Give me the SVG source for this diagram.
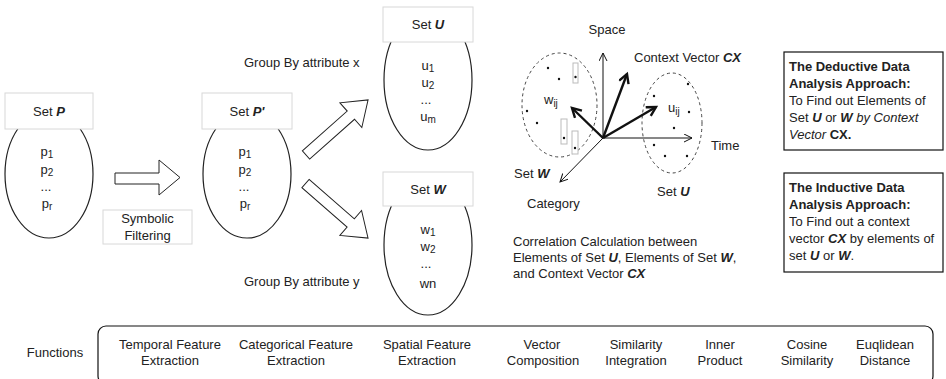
<svg xmlns="http://www.w3.org/2000/svg" width="946" height="379" viewBox="0 0 946 379">
<defs>
<style>
text{font-family:"Liberation Sans",Arial,sans-serif;font-size:13px;fill:#222}
.m{text-anchor:middle}
.bi{font-weight:bold;font-style:italic}
.b{font-weight:bold}
.i{font-style:italic}
.lbl{fill:#fff;stroke:#d8d8d8;stroke-width:1}
.set{fill:#fff;stroke:#222;stroke-width:1.2}
.hol{fill:#fff;stroke:#222;stroke-width:1}
.ax{stroke:#111;stroke-width:1;fill:none}
.thk{stroke:#111;stroke-width:2.4;fill:none}
.dash{fill:none;stroke:#444;stroke-width:1;stroke-dasharray:3,3}
.dot{fill:#111}
.sm{fill:#fff;stroke:#bbb;stroke-width:1}
.sub{font-size:10px}
</style>
<marker id="ah" markerWidth="10" markerHeight="10" refX="8" refY="4" orient="auto" markerUnits="userSpaceOnUse">
<path d="M0,0 L8,4 L0,8" fill="none" stroke="#111" stroke-width="1"/>
</marker>
<marker id="ahb" markerWidth="14" markerHeight="14" refX="10" refY="6" orient="auto" markerUnits="userSpaceOnUse">
<path d="M1,1 L10,6 L1,11" fill="none" stroke="#111" stroke-width="2.4"/>
</marker>
</defs>

<g id="setP">
<ellipse class="set" cx="49" cy="174" rx="44" ry="64"/>
<rect class="lbl" x="5" y="93" width="88" height="36"/>
<text class="m" x="49" y="116">Set <tspan class="bi">P</tspan></text>
<text class="m" x="47" y="156">p<tspan class="sub" dy="2">1</tspan></text>
<text class="m" x="47" y="174">p<tspan class="sub" dy="2">2</tspan></text>
<text class="m" x="46" y="191">...</text>
<text class="m" x="47" y="208">p<tspan class="sub" dy="2">r</tspan></text>
</g>

<g id="filter">
<polygon class="hol" points="115,173 159,173 159,160 180,177.5 159,195 159,184 115,184"/>
<rect class="lbl" x="103" y="210" width="89" height="34"/>
<text class="m" x="147.5" y="223">Symbolic</text>
<text class="m" x="147.5" y="240">Filtering</text>
</g>

<g id="setP2">
<ellipse class="set" cx="247" cy="174" rx="44" ry="64"/>
<rect class="lbl" x="202" y="93" width="90" height="36"/>
<text class="m" x="247" y="116">Set <tspan class="bi">P'</tspan></text>
<text class="m" x="245" y="156">p<tspan class="sub" dy="2">1</tspan></text>
<text class="m" x="245" y="174">p<tspan class="sub" dy="2">2</tspan></text>
<text class="m" x="244" y="191">...</text>
<text class="m" x="245" y="208">p<tspan class="sub" dy="2">r</tspan></text>
</g>

<g id="groupArrows">
<polygon class="hol" transform="translate(306,155) rotate(-41.6)" points="0,-5.5 60,-5.5 60,-16.5 83,0 60,16.5 60,5.5 0,5.5"/>
<polygon class="hol" transform="translate(305.5,183.5) rotate(41.1)" points="0,-5.5 60,-5.5 60,-16.5 83,0 60,16.5 60,5.5 0,5.5"/>
<text x="244" y="67">Group By attribute x</text>
<text x="244" y="286">Group By attribute y</text>
</g>

<g id="setU">
<ellipse class="set" cx="428" cy="80" rx="44" ry="70"/>
<rect class="lbl" x="383" y="7" width="90" height="35"/>
<text class="m" x="428" y="29">Set <tspan class="bi">U</tspan></text>
<text class="m" x="428" y="70">u<tspan class="sub" dy="2">1</tspan></text>
<text class="m" x="428" y="87">u<tspan class="sub" dy="2">2</tspan></text>
<text class="m" x="426" y="104">...</text>
<text class="m" x="428" y="121">u<tspan class="sub" dy="2">m</tspan></text>
</g>

<g id="setW">
<ellipse class="set" cx="428" cy="245" rx="44" ry="70"/>
<rect class="lbl" x="383" y="172" width="90" height="34"/>
<text class="m" x="428" y="194">Set <tspan class="bi">W</tspan></text>
<text class="m" x="428" y="234">w<tspan class="sub" dy="2">1</tspan></text>
<text class="m" x="428" y="251">w<tspan class="sub" dy="2">2</tspan></text>
<text class="m" x="426" y="268">...</text>
<text class="m" x="428" y="288">wn</text>
</g>

<g id="vectorSpace">
<ellipse class="dash" cx="559.5" cy="105" rx="37.5" ry="52"/>
<ellipse class="dash" cx="672" cy="123" rx="30" ry="50"/>
<rect class="sm" x="573" y="63" width="5" height="20"/>
<rect class="sm" x="561" y="119" width="6" height="25"/>
<rect class="sm" x="572" y="131" width="6" height="23"/>
<circle class="dot" cx="548" cy="68" r="1.2"/>
<circle class="dot" cx="559" cy="79" r="1.2"/>
<circle class="dot" cx="575.5" cy="77" r="1.2"/>
<circle class="dot" cx="527" cy="111" r="1.2"/>
<circle class="dot" cx="537" cy="123" r="1.2"/>
<circle class="dot" cx="564" cy="138" r="1.2"/>
<circle class="dot" cx="575" cy="148" r="1.2"/>
<circle class="dot" cx="654" cy="96" r="1.2"/>
<circle class="dot" cx="688" cy="84" r="1.2"/>
<circle class="dot" cx="689" cy="112" r="1.2"/>
<circle class="dot" cx="674" cy="128" r="1.2"/>
<circle class="dot" cx="654" cy="145" r="1.2"/>
<circle class="dot" cx="665" cy="156" r="1.2"/>
<circle class="dot" cx="687" cy="156" r="1.2"/>
<line class="ax" x1="603" y1="138" x2="603" y2="53" marker-end="url(#ah)"/>
<line class="ax" x1="603" y1="138" x2="692" y2="138" marker-end="url(#ah)"/>
<line class="ax" x1="603" y1="138" x2="560" y2="182" marker-end="url(#ah)"/>
<line class="thk" x1="603" y1="138" x2="627" y2="74" marker-end="url(#ahb)"/>
<line class="thk" x1="603" y1="138" x2="656" y2="107" marker-end="url(#ahb)"/>
<line class="thk" x1="603" y1="138" x2="572" y2="108" marker-end="url(#ahb)"/>
<text class="m" x="607" y="34">Space</text>
<text x="634" y="62">Context Vector <tspan class="bi">CX</tspan></text>
<text x="711" y="150">Time</text>
<text x="544" y="104">w<tspan class="sub" dy="3">ij</tspan></text>
<text x="668" y="112">u<tspan class="sub" dy="3">ij</tspan></text>
<text x="514" y="178">Set <tspan class="bi">W</tspan></text>
<text x="527" y="208">Category</text>
<text x="657" y="196">Set <tspan class="bi">U</tspan></text>
<text x="513" y="246">Correlation Calculation between</text>
<text x="513" y="262">Elements of Set <tspan class="bi">U</tspan>, Elements of Set <tspan class="bi">W</tspan>,</text>
<text x="513" y="278">and Context Vector <tspan class="bi">CX</tspan></text>
</g>

<g id="deductive">
<rect x="784" y="52" width="159" height="98" fill="none" stroke="#111" stroke-width="1.2"/>
<text x="789" y="71" class="b">The Deductive Data</text>
<text x="789" y="88" class="b">Analysis Approach:</text>
<text x="789" y="105">To Find out Elements of</text>
<text x="789" y="122">Set <tspan class="bi">U</tspan> or <tspan class="bi">W</tspan><tspan class="i"> by Context</tspan></text>
<text x="789" y="139"><tspan class="i">Vector </tspan><tspan class="b">CX.</tspan></text>
</g>

<g id="inductive">
<rect x="784" y="173" width="159" height="99" fill="none" stroke="#111" stroke-width="1.2"/>
<text x="789" y="192" class="b">The Inductive Data</text>
<text x="789" y="209" class="b">Analysis Approach:</text>
<text x="789" y="226">To Find out a context</text>
<text x="789" y="243">vector <tspan class="bi">CX</tspan> by elements of</text>
<text x="789" y="260">set <tspan class="bi">U</tspan> or <tspan class="bi">W</tspan>.</text>
</g>

<g id="functions">
<text class="m" x="55" y="357">Functions</text>
<rect x="98" y="326" width="835" height="58" rx="8" fill="none" stroke="#111" stroke-width="1.2"/>
<text class="m" x="170" y="349">Temporal Feature</text>
<text class="m" x="170" y="365">Extraction</text>
<text class="m" x="296" y="349">Categorical Feature</text>
<text class="m" x="296" y="365">Extraction</text>
<text class="m" x="427" y="349">Spatial Feature</text>
<text class="m" x="427" y="365">Extraction</text>
<text class="m" x="542" y="349">Vector</text>
<text class="m" x="543" y="365">Composition</text>
<text class="m" x="636" y="349">Similarity</text>
<text class="m" x="636" y="365">Integration</text>
<text class="m" x="720" y="349">Inner</text>
<text class="m" x="720" y="365">Product</text>
<text class="m" x="807" y="349">Cosine</text>
<text class="m" x="807" y="365">Similarity</text>
<text class="m" x="885" y="349">Euqlidean</text>
<text class="m" x="885" y="365">Distance</text>
</g>
</svg>
